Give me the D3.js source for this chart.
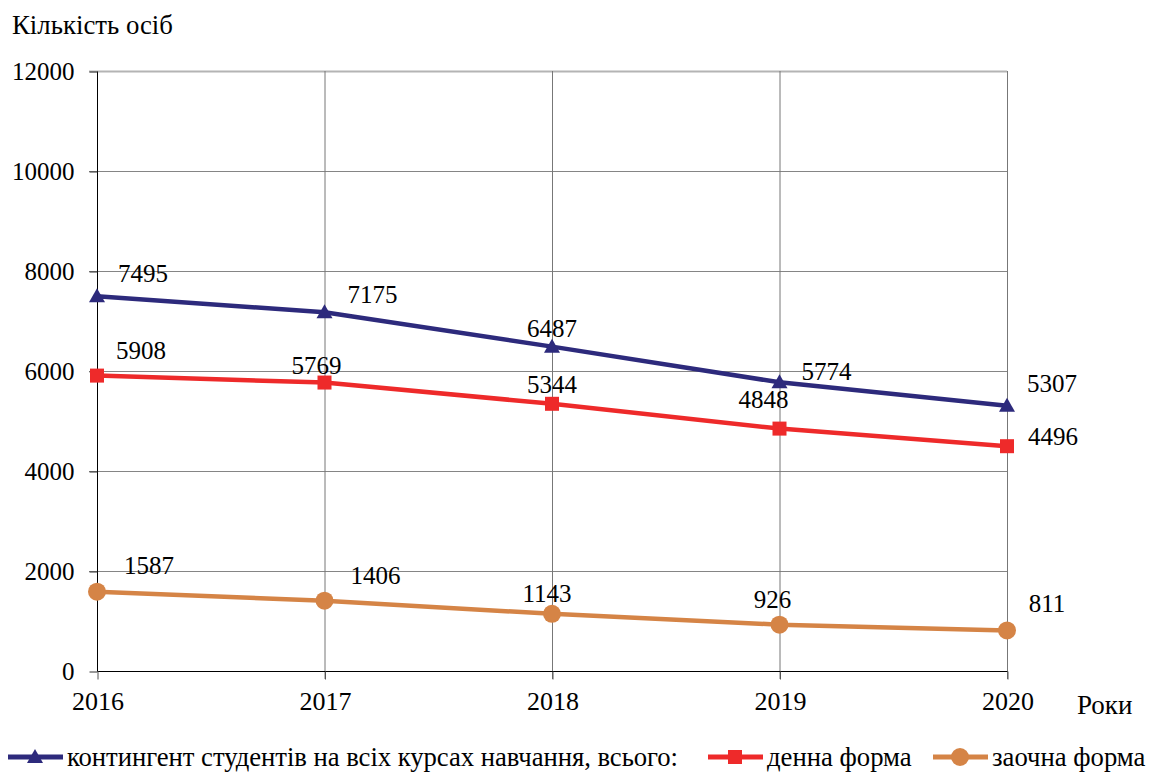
<!DOCTYPE html>
<html>
<head>
<meta charset="utf-8">
<script src="https://cdn.jsdelivr.net/npm/d3@7"></script>
<style>
  body { margin: 0; background: #fff; }
</style>
</head>
<body>
<div id="chart"></div>
<script>
var years = ["2016", "2017", "2018", "2019", "2020"];
var yTicks = [0, 2000, 4000, 6000, 8000, 10000, 12000];
var totalValues = [7495, 7175, 6487, 5774, 5307];
var dayValues = [5908, 5769, 5344, 4848, 4496];
var extramuralValues = [1587, 1406, 1143, 926, 811];
var seriesNames = ["контингент студентів на всіх курсах навчання, всього:", "денна форма", "заочна форма"];

// label offsets from each point (layout only)
var totalLabelOffsets = [[46, -23], [48, -18], [0, -18], [47, -11], [45, -22]];
var dayLabelOffsets = [[44, -25], [-8, -17], [0, -19], [-16, -29], [46, -10]];
var extramuralLabelOffsets = [[52, -26], [51, -25], [-5, -20], [-7, -25], [40, -27]];

var FONT = "'Liberation Serif', 'Times New Roman', Tinos, 'DejaVu Serif'";
var width = 1149, height = 772;
var series = [
  { name: seriesNames[0], values: totalValues, offsets: totalLabelOffsets, color: "#2d2a7c", marker: "triangle" },
  { name: seriesNames[1], values: dayValues, offsets: dayLabelOffsets, color: "#ee2a2a", marker: "square" },
  { name: seriesNames[2], values: extramuralValues, offsets: extramuralLabelOffsets, color: "#d58446", marker: "circle" }
];

var svg = d3.select("#chart").append("svg").attr("width", width).attr("height", height)
  .style("font-family", FONT);

var x = d3.scalePoint().domain(years).range([97, 1007]);
var y = d3.scaleLinear().domain([0, 12000]).range([671, 71]);

// horizontal grid
svg.append("g").selectAll("line")
  .data(yTicks.filter(function (d) { return d > 0; }))
  .enter().append("line")
  .attr("x1", 89).attr("x2", 1007)
  .attr("y1", function (d) { return y(d) + 0.5; })
  .attr("y2", function (d) { return y(d) + 0.5; })
  .attr("stroke", function (d) { return d === 12000 ? "#b4b4b4" : "#858585"; })
  .attr("stroke-width", function (d) { return d === 12000 ? 2 : 1; });

// vertical grid
svg.append("g").selectAll("line")
  .data(years.slice(1))
  .enter().append("line")
  .attr("x1", function (d) { return x(d) + 0.5; })
  .attr("x2", function (d) { return x(d) + 0.5; })
  .attr("y1", 71).attr("y2", 679)
  .attr("stroke", "#777")
  .attr("stroke-width", 1);

// axes
var yAxis = d3.axisLeft(y).tickValues(yTicks).tickSize(8).tickPadding(15).tickFormat(d3.format("d"));
var gY = svg.append("g").attr("transform", "translate(97.5,0.5)").call(yAxis)
  .attr("font-family", null).attr("font-size", 25);
gY.select(".domain").attr("stroke", "#000").attr("d", "M0," + y(12000) + "V" + y(0));
gY.selectAll(".tick line").attr("stroke", "#333");

var xAxis = d3.axisBottom(x).tickSize(8).tickPadding(12);
var gX = svg.append("g").attr("transform", "translate(0.5," + (y(0) + 0.5) + ")").call(xAxis)
  .attr("font-family", null).attr("font-size", 26);
gX.select(".domain").attr("stroke", "#000").attr("d", "M" + x("2016") + ",0H" + x("2020"));
gX.selectAll(".tick line").attr("stroke", "#555");

svg.append("text").attr("x", 12).attr("y", 34).attr("font-size", 26.8).text("Кількість осіб");
svg.append("text").attr("x", 1077).attr("y", 714).attr("font-size", 27).text("Роки");

function drawMarker(g, type, color) {
  if (type === "triangle") {
    g.append("path").attr("d", "M0,-8L8,6L-8,6Z").attr("fill", color);
  } else if (type === "square") {
    g.append("rect").attr("x", -7).attr("y", -7).attr("width", 14).attr("height", 14).attr("fill", color);
  } else {
    g.append("circle").attr("r", 9).attr("fill", color);
  }
}

var line = d3.line()
  .x(function (d, i) { return x(years[i]); })
  .y(function (d) { return y(d); });

series.forEach(function (s) {
  var g = svg.append("g");
  g.append("path")
    .attr("d", line(s.values))
    .attr("fill", "none")
    .attr("stroke", s.color)
    .attr("stroke-width", 4.5)
    .attr("stroke-linejoin", "round");
  s.values.forEach(function (v, i) {
    var m = g.append("g").attr("transform", "translate(" + x(years[i]) + "," + y(v) + ")");
    drawMarker(m, s.marker, s.color);
  });
  g.selectAll("text.label")
    .data(s.values)
    .enter().append("text")
    .attr("class", "label")
    .attr("x", function (d, i) { return x(years[i]) + s.offsets[i][0]; })
    .attr("y", function (d, i) { return y(d) + s.offsets[i][1]; })
    .attr("text-anchor", "middle")
    .attr("dominant-baseline", "central")
    .attr("font-size", 25)
    .text(function (d) { return d; });
});

// legend
var legendX = [8, 708, 933];
var legendTextLength = [611, null, null];
var legend = svg.append("g").attr("transform", "translate(0,757)");
series.forEach(function (s, i) {
  var lg = legend.append("g").attr("transform", "translate(" + legendX[i] + ",0)");
  lg.append("line").attr("x1", 0).attr("x2", 55).attr("y1", 0).attr("y2", 0)
    .attr("stroke", s.color).attr("stroke-width", 5);
  drawMarker(lg.append("g").attr("transform", "translate(27,0)"), s.marker, s.color);
  var t = lg.append("text").attr("x", 59).attr("y", 0).attr("dominant-baseline", "central")
    .attr("font-size", 26.7).text(s.name);
  if (legendTextLength[i]) t.attr("textLength", legendTextLength[i]).attr("lengthAdjust", "spacing");
});
</script>
</body>
</html>
